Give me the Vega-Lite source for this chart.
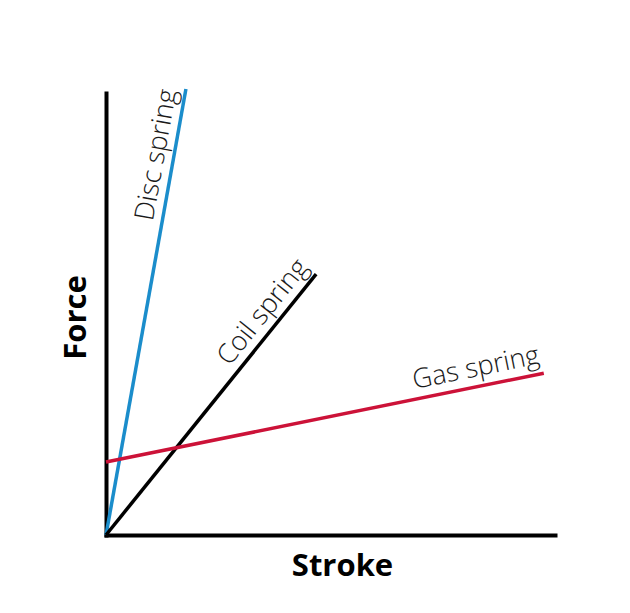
{
  "$schema": "https://vega.github.io/schema/vega-lite/v6.json",
  "autosize": {"type": "none"},
  "padding": {"left": 106, "top": 93, "right": 75, "bottom": 78},
  "width": 449,
  "height": 442,
  "background": "white",
  "datasets": {
    "springs": [
      {"spring": "Disc spring", "stroke": 0, "force": 0},
      {"spring": "Disc spring", "stroke": 17.8, "force": 100.9},
      {"spring": "Coil spring", "stroke": 0, "force": 0},
      {"spring": "Coil spring", "stroke": 46.8, "force": 59.0},
      {"spring": "Gas spring", "stroke": 0, "force": 16.5},
      {"spring": "Gas spring", "stroke": 97.5, "force": 36.6}
    ],
    "labels": [
      {"spring": "Disc spring", "stroke": 11.3, "force": 86.0},
      {"spring": "Coil spring", "stroke": 35.0, "force": 50.4},
      {"spring": "Gas spring", "stroke": 82.4, "force": 37.7}
    ]
  },
  "config": {
    "view": {"stroke": null},
    "axis": {
      "domainColor": "black",
      "domainWidth": 4,
      "domainCap": "square",
      "ticks": false,
      "labels": false,
      "grid": false,
      "titleFont": "Open Sans",
      "titleFontWeight": "bold",
      "titleFontSize": 31,
      "titleColor": "black"
    },
    "text": {"font": "Open Sans", "fontSize": 27, "fontWeight": 300, "color": "#1a1a1a", "baseline": "middle", "align": "center"}
  },
  "layer": [
    {
      "data": {"name": "springs"},
      "mark": {"type": "line", "strokeWidth": 3.5, "clip": false},
      "encoding": {
        "x": {"field": "stroke", "type": "quantitative", "scale": {"domain": [0, 100]},
          "axis": {"title": "Stroke", "titleX": 236, "titleY": 40, "titleAlign": "center", "titleBaseline": "alphabetic"}},
        "y": {"field": "force", "type": "quantitative", "scale": {"domain": [0, 100]},
          "axis": {"title": "Force", "titleAngle": 270, "titleX": -21, "titleY": 224, "titleAlign": "center", "titleBaseline": "alphabetic"}},
        "color": {"field": "spring", "type": "nominal", "legend": null,
          "scale": {"domain": ["Disc spring", "Coil spring", "Gas spring"], "range": ["#1b8dcb", "#000000", "#cc1238"]}}
      }
    },
    {
      "data": {"name": "labels"},
      "transform": [{"filter": "datum.spring == 'Disc spring'"}],
      "mark": {"type": "text", "angle": 280.2},
      "encoding": {
        "x": {"field": "stroke", "type": "quantitative", "title": "Stroke"},
        "y": {"field": "force", "type": "quantitative", "title": "Force"},
        "text": {"field": "spring"}
      }
    },
    {
      "data": {"name": "labels"},
      "transform": [{"filter": "datum.spring == 'Coil spring'"}],
      "mark": {"type": "text", "angle": 308.8},
      "encoding": {
        "x": {"field": "stroke", "type": "quantitative", "title": "Stroke"},
        "y": {"field": "force", "type": "quantitative", "title": "Force"},
        "text": {"field": "spring"}
      }
    },
    {
      "data": {"name": "labels"},
      "transform": [{"filter": "datum.spring == 'Gas spring'"}],
      "mark": {"type": "text", "angle": 348.5},
      "encoding": {
        "x": {"field": "stroke", "type": "quantitative", "title": "Stroke"},
        "y": {"field": "force", "type": "quantitative", "title": "Force"},
        "text": {"field": "spring"}
      }
    }
  ]
}
